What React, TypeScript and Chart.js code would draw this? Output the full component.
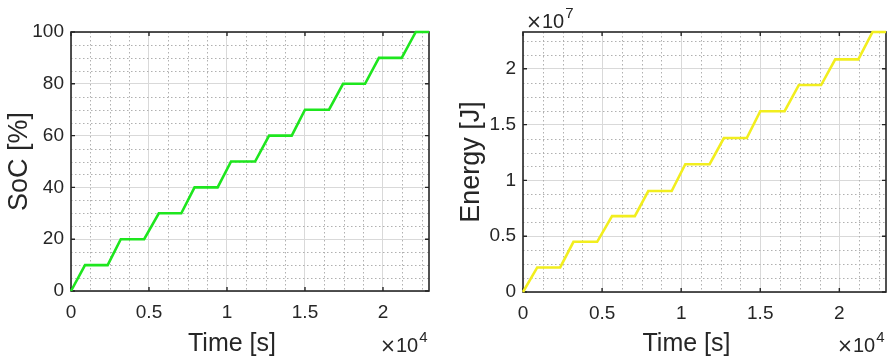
import React, { useEffect, useRef } from 'react';
import { Chart, registerables } from 'chart.js';
Chart.register(...registerables);

// ---- data ----
const timeS = [0, 900, 2350, 3190, 4690, 5630, 7070, 7920, 9400, 10260, 11800, 12700, 14150, 15000, 16540, 17440, 18850, 19740, 21200, 22100, 22950];
const socPct = [0, 10, 10, 20, 20, 30, 30, 40, 40, 50, 50, 60, 60, 70, 70, 80, 80, 90, 90, 100, 100];
const energyJ = [0, 2.2e6, 2.2e6, 4.5e6, 4.5e6, 6.8e6, 6.8e6, 9.05e6, 9.05e6, 11.45e6, 11.45e6, 13.8e6, 13.8e6, 16.2e6, 16.2e6, 18.55e6, 18.55e6, 20.85e6, 20.85e6, 23.3e6, 23.3e6];
const timeTicks = [0, 5000, 10000, 15000, 20000];
const socTicks = [0, 20, 40, 60, 80, 100];
const energyTicks = [0, 5e6, 1e7, 1.5e7, 2e7];
const timeMax = 22950;
const socMax = 100;
const energyMax = 23.3e6;
const timeMinorStep = 1250;
const socMinorStep = 5;
const energyMinorStep = 1.25e6;

const FONT = '"Liberation Sans", Arial, Helvetica, sans-serif';
const TXT = '#262626';

function fmt(v: number, div: number) {
  return String(Math.round((v / div) * 10) / 10);
}

type DecorCfg = {
  xMinor: number;
  yMinor: number;
  xTicks: number[];
  yTicks: number[];
  xTitle: string;
  xExp: string;
  yExp?: string;
};

function makeDecor(cfg: DecorCfg) {
  return {
    id: 'decor',
    beforeDatasetsDraw(chart: any) {
      const { ctx, chartArea: a, scales } = chart;
      const xs = scales.x, ys = scales.y;
      ctx.save();
      ctx.strokeStyle = '#b0b0b0';
      ctx.lineWidth = 1;
      ctx.setLineDash([1.5, 2.5]);
      const isMajor = (v: number, arr: number[]) => arr.some((t) => Math.abs(t - v) < 1e-6 * Math.max(1, Math.abs(t)));
      for (let v = xs.min + cfg.xMinor; v < xs.max; v += cfg.xMinor) {
        if (isMajor(v, cfg.xTicks)) continue;
        const px = Math.round(xs.getPixelForValue(v)) + 0.5;
        ctx.beginPath();
        ctx.moveTo(px, a.top);
        ctx.lineTo(px, a.bottom);
        ctx.stroke();
      }
      for (let v = ys.min + cfg.yMinor; v < ys.max; v += cfg.yMinor) {
        if (isMajor(v, cfg.yTicks)) continue;
        const py = Math.round(ys.getPixelForValue(v)) + 0.5;
        ctx.beginPath();
        ctx.moveTo(a.left, py);
        ctx.lineTo(a.right, py);
        ctx.stroke();
      }
      // axes box + inward ticks
      ctx.setLineDash([]);
      ctx.strokeStyle = TXT;
      ctx.lineWidth = 1.6;
      ctx.strokeRect(a.left, a.top, a.right - a.left, a.bottom - a.top);
      const tl = 4;
      ctx.lineWidth = 1.4;
      cfg.xTicks.forEach((v) => {
        const px = xs.getPixelForValue(v);
        ctx.beginPath();
        ctx.moveTo(px, a.bottom);
        ctx.lineTo(px, a.bottom - tl);
        ctx.moveTo(px, a.top);
        ctx.lineTo(px, a.top + tl);
        ctx.stroke();
      });
      cfg.yTicks.forEach((v) => {
        const py = ys.getPixelForValue(v);
        ctx.beginPath();
        ctx.moveTo(a.left, py);
        ctx.lineTo(a.left + tl, py);
        ctx.moveTo(a.right, py);
        ctx.lineTo(a.right - tl, py);
        ctx.stroke();
      });
      ctx.restore();
    },
    afterDatasetsDraw(chart: any) {
      const { ctx, chartArea: a } = chart;
      ctx.save();
      // x title
      ctx.fillStyle = TXT;
      ctx.font = `25px ${FONT}`;
      ctx.textAlign = 'center';
      ctx.textBaseline = 'alphabetic';
      ctx.fillText(cfg.xTitle, (a.left + a.right) / 2 - 18, 351);
      // exponent labels
      const drawExp = (x: number, y: number, exp: string) => {
        ctx.textAlign = 'left';
        ctx.font = `19px "DejaVu Sans", ${FONT}`;
        const times = '\u00d7';
        ctx.fillText(times, x, y);
        const tw = ctx.measureText(times).width;
        ctx.font = `20px ${FONT}`;
        const base = '10';
        ctx.fillText(base, x + tw, y);
        const w = ctx.measureText(base).width;
        ctx.font = `15px ${FONT}`;
        ctx.fillText(exp, x + tw + w + 1, y - 10);
      };
      drawExp(a.right - 49, 352, cfg.xExp);
      if (cfg.yExp) drawExp(a.left + 3, a.top - 4, cfg.yExp);
      ctx.restore();
    },
  };
}

function makeConfig(opts: {
  values: number[];
  color: string;
  yMax: number;
  yTicks: number[];
  yDiv: number;
  yTitle: string;
  yTitlePad: number;
  yWidth: number;
  xHeight: number;
  padRight: number;
  yExp?: string;
}) {
  const tickFont = { family: FONT, size: 19 };
  return {
    type: 'line',
    data: {
      datasets: [
        {
          data: timeS.map((t, i) => ({ x: t, y: opts.values[i] })),
          borderColor: opts.color,
          backgroundColor: opts.color,
          borderWidth: 2.6,
          pointRadius: 0,
          tension: 0,
          fill: false,
          clip: 2,
        },
      ],
    },
    options: {
      animation: false,
      responsive: false,
      devicePixelRatio: 1,
      layout: { padding: { left: 0, top: 32, right: opts.padRight, bottom: 0 } },
      plugins: { legend: { display: false }, tooltip: { enabled: false }, title: { display: false } },
      scales: {
        x: {
          type: 'linear',
          min: 0,
          max: timeMax,
          afterBuildTicks: (s: any) => {
            s.ticks = timeTicks.map((v) => ({ value: v }));
          },
          afterFit: (s: any) => {
            s.height = opts.xHeight;
          },
          grid: { color: '#d9d9d9', lineWidth: 1, drawTicks: false },
          border: { display: false },
          ticks: {
            padding: 10,
            maxRotation: 0,
            autoSkip: false,
            font: tickFont,
            color: TXT,
            callback: (v: number) => fmt(v, 1e4),
          },
        },
        y: {
          type: 'linear',
          min: 0,
          max: opts.yMax,
          afterBuildTicks: (s: any) => {
            s.ticks = opts.yTicks.map((v) => ({ value: v }));
          },
          afterFit: (s: any) => {
            s.width = opts.yWidth;
          },
          grid: { color: '#d9d9d9', lineWidth: 1, drawTicks: false },
          border: { display: false },
          title: {
            display: true,
            text: opts.yTitle,
            color: TXT,
            font: { family: FONT, size: 27 },
            padding: { top: opts.yTitlePad, bottom: 0 },
          },
          ticks: {
            padding: 7,
            autoSkip: false,
            font: tickFont,
            color: TXT,
            callback: (v: number) => fmt(v, opts.yDiv),
          },
        },
      },
    },
    plugins: [
      makeDecor({
        xMinor: timeMinorStep,
        yMinor: opts.yDiv === 1 ? socMinorStep : energyMinorStep,
        xTicks: timeTicks,
        yTicks: opts.yTicks,
        xTitle: 'Time [s]',
        xExp: '4',
        yExp: opts.yExp,
      }),
    ],
  } as any;
}

export default function App() {
  const leftRef = useRef<HTMLCanvasElement>(null);
  const rightRef = useRef<HTMLCanvasElement>(null);

  useEffect(() => {
    const c1 = new Chart(
      leftRef.current as HTMLCanvasElement,
      makeConfig({
        values: socPct,
        color: '#1ee61e',
        yMax: socMax,
        yTicks: socTicks,
        yDiv: 1,
        yTitle: 'SoC [%]',
        yTitlePad: 3.5,
        yWidth: 71,
        xHeight: 70,
        padRight: 15,
      })
    );
    const c2 = new Chart(
      rightRef.current as HTMLCanvasElement,
      makeConfig({
        values: energyJ,
        color: '#f2ee1e',
        yMax: energyMax,
        yTicks: energyTicks,
        yDiv: 1e7,
        yTitle: 'Energy [J]',
        yTitlePad: 11.5,
        yWidth: 79,
        xHeight: 69,
        padRight: 2,
        yExp: '7',
      })
    );
    return () => {
      c1.destroy();
      c2.destroy();
    };
  }, []);

  return (
    <div style={{ position: 'fixed', left: 0, top: 0, width: 888, height: 361, background: '#fff' }}>
      <canvas ref={leftRef} width={444} height={361} style={{ position: 'absolute', left: 0, top: 0, width: 444, height: 361 }} />
      <canvas ref={rightRef} width={444} height={361} style={{ position: 'absolute', left: 444, top: 0, width: 444, height: 361 }} />
    </div>
  );
}
